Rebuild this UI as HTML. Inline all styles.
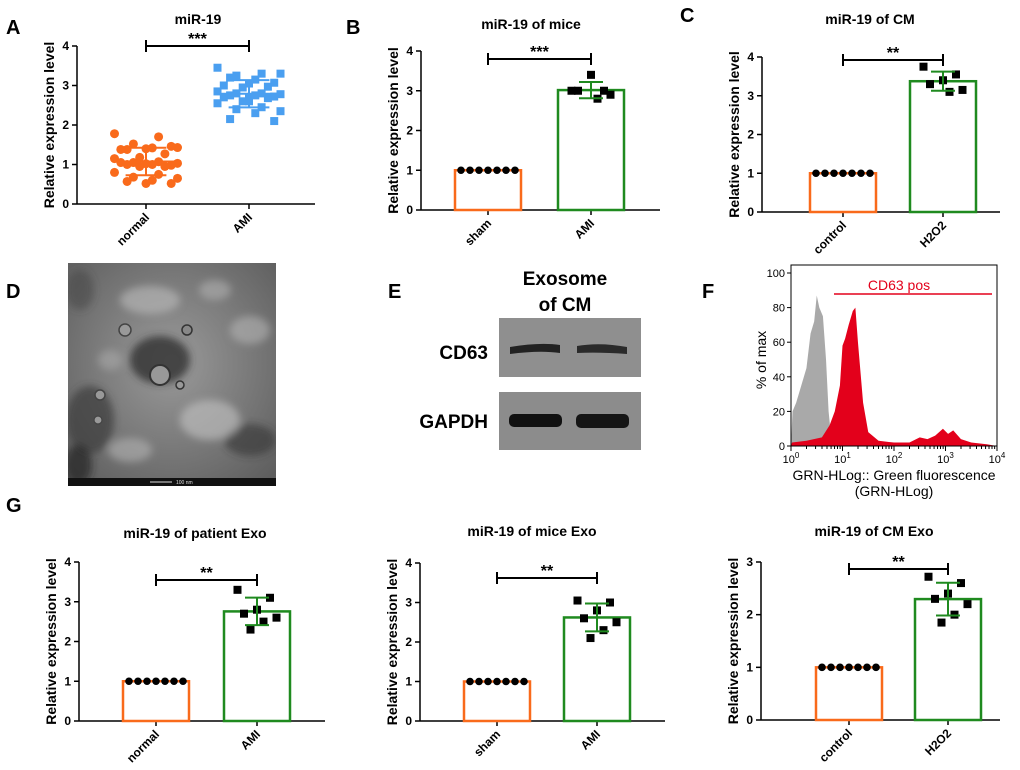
<!DOCTYPE html>
<html><head><meta charset="utf-8"><style>
html,body{margin:0;padding:0;background:#fff;}
svg{display:block;font-family:"Liberation Sans",Arial,sans-serif;}
</style></head><body>
<svg id="fig" width="1020" height="770" viewBox="0 0 1020 770" xmlns="http://www.w3.org/2000/svg">
<defs>
<radialGradient id="tem" cx="50%" cy="45%" r="70%"><stop offset="0" stop-color="#9a9a9a"/><stop offset="1" stop-color="#5e5e5e"/></radialGradient>
<filter id="blur2"><feGaussianBlur stdDeviation="4"/></filter>
<clipPath id="temclip"><rect x="68" y="263" width="208" height="223"/></clipPath>
</defs>
<g font-weight="bold" font-size="20" fill="#000">
<text x="6" y="34">A</text>
<text x="346" y="34">B</text>
<text x="680" y="22">C</text>
<text x="6" y="298">D</text>
<text x="388" y="298">E</text>
<text x="702" y="298">F</text>
<text x="6" y="512">G</text>
</g>
<!-- D: TEM image -->
<g clip-path="url(#temclip)">
<rect x="68" y="263" width="208" height="223" fill="url(#tem)"/>
<g filter="url(#blur2)">
<ellipse cx="160" cy="360" rx="30" ry="24" fill="#2e2e2e" opacity="0.8"/>
<ellipse cx="90" cy="420" rx="24" ry="34" fill="#3a3a3a" opacity="0.7"/>
<ellipse cx="78" cy="465" rx="14" ry="20" fill="#222" opacity="0.7"/>
<ellipse cx="250" cy="440" rx="26" ry="16" fill="#333" opacity="0.6"/>
<ellipse cx="80" cy="290" rx="14" ry="20" fill="#444" opacity="0.5"/>
<ellipse cx="150" cy="300" rx="30" ry="14" fill="#bdbdbd" opacity="0.6"/>
<ellipse cx="210" cy="420" rx="30" ry="20" fill="#c4c4c4" opacity="0.6"/>
<ellipse cx="250" cy="330" rx="20" ry="14" fill="#c0c0c0" opacity="0.5"/>
<ellipse cx="130" cy="450" rx="22" ry="12" fill="#c0c0c0" opacity="0.5"/>
<ellipse cx="215" cy="290" rx="16" ry="10" fill="#bbb" opacity="0.5"/>
<ellipse cx="110" cy="360" rx="12" ry="10" fill="#bbb" opacity="0.4"/>
</g>
<circle cx="160" cy="375" r="10" fill="#999" stroke="#333" stroke-width="2"/>
<circle cx="125" cy="330" r="6" fill="#999" stroke="#444" stroke-width="1.5"/>
<circle cx="187" cy="330" r="5" fill="#888" stroke="#333" stroke-width="1.5"/>
<circle cx="100" cy="395" r="5" fill="#999" stroke="#444" stroke-width="1.5"/>
<circle cx="180" cy="385" r="4" fill="#999" stroke="#333" stroke-width="1.5"/>
<circle cx="98" cy="420" r="4" fill="#999" stroke="#444" stroke-width="1.2"/>
<rect x="68" y="478" width="208" height="8" fill="#111"/>
<line x1="150" y1="482" x2="172" y2="482" stroke="#ddd" stroke-width="1"/>
<text x="176" y="484" font-size="5" fill="#ddd">100 nm</text>
</g>
<!-- E: western blot -->
<g>
<text x="565" y="285" font-size="19" font-weight="bold" text-anchor="middle">Exosome</text>
<text x="565" y="311" font-size="19" font-weight="bold" text-anchor="middle">of CM</text>
<rect x="499" y="318" width="142" height="59" fill="#8f8f8f"/>
<rect x="499" y="392" width="142" height="58" fill="#8c8c8c"/>
<path d="M510 347 Q540 342 560 345 L560 353 Q540 350 510 354Z" fill="#222"/>
<path d="M577 346 Q600 342 627 347 L627 354 Q600 352 577 353Z" fill="#2a2a2a"/>
<rect x="509" y="414" width="53" height="13" rx="5" fill="#111"/>
<rect x="576" y="414" width="53" height="14" rx="5" fill="#151515"/>
<text x="488" y="359" font-size="19" font-weight="bold" text-anchor="end">CD63</text>
<text x="488" y="428" font-size="19" font-weight="bold" text-anchor="end">GAPDH</text>
</g>
<g id="charts"></g>
</svg>
<script>
// ---------- data ----------
const aNormal=[1.78,1.70,1.52,1.43,1.42,1.38,1.46,1.40,1.38,1.27,1.18,1.15,1.07,1.05,1.03,1.00,1.00,0.98,1.02,1.05,0.95,0.95,0.80,0.75,0.68,0.65,0.60,0.57,0.52,0.52];
const aAMI=[3.45,3.30,3.25,3.30,3.15,3.20,3.07,3.05,3.00,2.97,2.95,2.85,2.80,2.80,2.78,2.75,2.75,2.72,2.70,2.70,2.68,2.60,2.55,2.45,2.40,2.35,2.30,2.15,2.10,2.60];
const bCategories=["sham","AMI"];
const bCtrl=[1,1,1,1,1,1,1];
const bTreat=[3.0,3.0,3.4,3.0,2.9,2.8];
const cCategories=["control","H2O2"];
const cCtrl=[1,1,1,1,1,1,1];
const cTreat=[3.75,3.55,3.4,3.3,3.15,3.1];
const g1Categories=["normal","AMI"];
const g1Ctrl=[1,1,1,1,1,1,1];
const g1Treat=[3.3,3.1,2.8,2.7,2.6,2.5,2.3];
const g2Categories=["sham","AMI"];
const g2Ctrl=[1,1,1,1,1,1,1];
const g2Treat=[3.05,3.0,2.8,2.6,2.5,2.3,2.1];
const g3Categories=["control","H2O2"];
const g3Ctrl=[1,1,1,1,1,1,1];
const g3Treat=[2.72,2.6,2.4,2.3,2.2,2.0,1.85];
const fGreyX=[0,0.03,0.1,0.2,0.3,0.38,0.45,0.5,0.55,0.62,0.68,0.73,0.78,0.85,0.9];
const fGreyY=[0,20,25,35,45,65,72,87,80,75,50,20,5,2,0];
const fRedX=[0,0.02,0.3,0.6,0.75,0.85,0.95,1.0,1.05,1.12,1.2,1.25,1.3,1.4,1.5,1.7,2.0,2.3,2.5,2.65,2.8,2.95,3.05,3.15,3.3,3.5,3.8,4];
const fRedY=[0,2,3,5,12,20,35,58,62,70,78,80,60,25,8,3,2,2,5,4,6,10,7,9,4,2,1,0];
const fTicksY=[0,20,40,60,80,100];
const fTicksX=[0,1,2,3,4];

const NS="http://www.w3.org/2000/svg";
const root=document.getElementById('charts');
function el(tag,attrs,parent,text){const e=document.createElementNS(NS,tag);for(const k in attrs)e.setAttribute(k,attrs[k]);if(text!==undefined)e.textContent=text;(parent||root).appendChild(e);return e;}
function mean(a){return a.reduce((s,v)=>s+v,0)/a.length;}
function sd(a){const m=mean(a);return Math.sqrt(a.reduce((s,v)=>s+(v-m)*(v-m),0)/(a.length-1));}

function chart(o){
  const g=el('g',{});
  
  
  const y=v=>o.y0-(v/o.ymax)*(o.y0-o.yTop);
  const t=el('text',{x:o.tx,y:o.ty,'font-size':14,'font-weight':'bold','text-anchor':'middle'},g,o.title);
  
  
  const yl=el('text',{transform:`translate(${o.ax-23},${(o.y0+o.yTop)/2}) rotate(-90)`,'font-size':14,'font-weight':'bold','text-anchor':'middle'},g,'Relative expression level');
  
  
  el('line',{x1:o.ax,y1:o.yTop,x2:o.ax,y2:o.y0,stroke:'#000','stroke-width':1.5},g);
  el('line',{x1:o.ax,y1:o.y0,x2:o.axEnd,y2:o.y0,stroke:'#000','stroke-width':1.5},g);
  for(let v=0;v<=o.ymax;v++){
    el('line',{x1:o.ax-5,y1:y(v),x2:o.ax,y2:y(v),stroke:'#000','stroke-width':1.5},g);
    const tl=el('text',{x:o.ax-8,y:y(v)+4,'font-size':12,'font-weight':'bold','text-anchor':'end'},g,String(v));
    
    
  }
  const groups=[o.ctrl,o.treat];
  o.cx.forEach((cx,i)=>{
    el('line',{x1:cx,y1:o.y0,x2:cx,y2:o.y0+5,stroke:'#000','stroke-width':1.5},g);
    const xl=el('text',{transform:`translate(${cx+4},${o.y0+14}) rotate(-45)`,'font-size':12,'font-weight':'bold','text-anchor':'end'},g,o.cats[i]);
    
    
  });
  const cols=o.scatter?['#f96a1b','#4a9ff0']:['#f96a1b','#1f8a1f'];
  groups.forEach((arr,i)=>{
    const cx=o.cx[i],m=mean(arr),s=sd(arr);
    if(!o.scatter){
      const b=el('rect',{x:cx-33,y:y(m),width:66,height:o.y0-y(m),fill:'none',stroke:cols[i],'stroke-width':2.5},g);
      
      
    }
    arr.forEach((v,j)=>{
      let px;
      if(o.scatter){px=cx+(((j*7)%11)-5)*6.3;}
      else if(i===0){px=cx-27+j*(54/(arr.length-1));}
      else {px=cx+(((j*5)%7)-3)*6.5;}
      let p;
      const fc=o.scatter?cols[i]:'#000';
      if(i===0) p=el('circle',{cx:px,cy:y(v),r:o.scatter?4.5:3.8,fill:fc},g);
      else p=el('rect',{x:px-4,y:y(v)-4,width:8,height:8,fill:fc},g);
      
      
    });
    if(i===1||o.scatter){
      const ec=cols[i];
      const ew=o.scatter?34:20;
      if(o.scatter) el('line',{x1:cx-ew,y1:y(m),x2:cx+ew,y2:y(m),stroke:ec,'stroke-width':2},g);
      el('line',{x1:cx,y1:y(m-s),x2:cx,y2:y(m+s),stroke:ec,'stroke-width':2},g);
      el('line',{x1:cx-ew*0.6,y1:y(m+s),x2:cx+ew*0.6,y2:y(m+s),stroke:ec,'stroke-width':2},g);
      el('line',{x1:cx-ew*0.6,y1:y(m-s),x2:cx+ew*0.6,y2:y(m-s),stroke:ec,'stroke-width':2},g);
    }
  });
  const sg=el('g',{},g);
  
  
  el('line',{x1:o.cx[0],y1:o.sy,x2:o.cx[1],y2:o.sy,stroke:'#000','stroke-width':2},sg);
  el('line',{x1:o.cx[0],y1:o.sy-6,x2:o.cx[0],y2:o.sy+6,stroke:'#000','stroke-width':2},sg);
  el('line',{x1:o.cx[1],y1:o.sy-6,x2:o.cx[1],y2:o.sy+6,stroke:'#000','stroke-width':2},sg);
  el('text',{x:(o.cx[0]+o.cx[1])/2,y:o.sy-2,'font-size':16,'font-weight':'bold','text-anchor':'middle'},sg,o.stars);
}

chart({name:'chart-a',title:'miR-19',tx:198,ty:24,ax:77,axEnd:315,y0:204,yTop:46,ymax:4,cx:[146,249],cats:['normal','AMI'],ctrl:aNormal,treat:aAMI,scatter:true,sy:46,stars:'***'});
chart({name:'chart-b',title:'miR-19 of mice',tx:531,ty:29,ax:421,axEnd:660,y0:210,yTop:51,ymax:4,cx:[488,591],cats:bCategories,ctrl:bCtrl,treat:bTreat,sy:59,stars:'***'});
chart({name:'chart-c',title:'miR-19 of CM',tx:870,ty:24,ax:762,axEnd:1000,y0:212,yTop:57,ymax:4,cx:[843,943],cats:cCategories,ctrl:cCtrl,treat:cTreat,sy:60,stars:'**'});
chart({name:'chart-g-patient',title:'miR-19 of patient Exo',tx:195,ty:538,ax:79,axEnd:325,y0:721,yTop:562,ymax:4,cx:[156,257],cats:g1Categories,ctrl:g1Ctrl,treat:g1Treat,sy:580,stars:'**'});
chart({name:'chart-g-mice',title:'miR-19 of mice Exo',tx:532,ty:536,ax:420,axEnd:665,y0:721,yTop:563,ymax:4,cx:[497,597],cats:g2Categories,ctrl:g2Ctrl,treat:g2Treat,sy:578,stars:'**'});
chart({name:'chart-g-cm',title:'miR-19 of CM Exo',tx:874,ty:536,ax:761,axEnd:1000,y0:720,yTop:562,ymax:3,cx:[849,948],cats:g3Categories,ctrl:g3Ctrl,treat:g3Treat,sy:569,stars:'**'});

// ---------- F: flow histogram ----------
(function(){
  const g=el('g',{});
  
  
  const x0=791,x1=997,y0=446,y100=273,top=265;
  const X=v=>x0+v/4*(x1-x0), Y=v=>y0-v/100*(y0-y100);
  function area(xs,ys,col,name){
    let d='M'+X(xs[0])+' '+Y(0);
    xs.forEach((v,i)=>{d+=' L'+X(v)+' '+Y(ys[i]);});
    d+=' L'+X(xs[xs.length-1])+' '+Y(0)+'Z';
    const p=el('path',{d:d,fill:col},g);
    
    
  }
  area(fGreyX,fGreyY,'#a9a9a9','histogram-control');
  area(fRedX,fRedY,'#e3001b','histogram-cd63');
  el('path',{d:`M${x0} ${y0} L${x0} ${top} L${x1} ${top} L${x1} ${y0} Z`,fill:'none',stroke:'#000','stroke-width':1},g);
  fTicksY.forEach(v=>{
    el('line',{x1:x0-4,y1:Y(v),x2:x0,y2:Y(v),stroke:'#000'},g);
    el('text',{x:x0-6,y:Y(v)+4,'font-size':11,'text-anchor':'end'},g,String(v));
  });
  fTicksX.forEach(v=>{
    el('line',{x1:X(v),y1:y0,x2:X(v),y2:y0+5,stroke:'#000'},g);
    const t=el('text',{x:X(v),y:y0+17,'font-size':11,'text-anchor':'middle'},g,'10');
    el('tspan',{dy:-5,'font-size':8},t,String(v));
    if(v<4) for(let k=2;k<10;k++){const xx=X(v+Math.log10(k));el('line',{x1:xx,y1:y0,x2:xx,y2:y0+3,stroke:'#000'},g);}
  });
  el('line',{x1:834,y1:294,x2:992,y2:294,stroke:'#e3001b','stroke-width':1.5},g);
  el('text',{x:899,y:290,'font-size':14,fill:'#e3001b','text-anchor':'middle'},g,'CD63 pos');
  el('text',{transform:`translate(766,360) rotate(-90)`,'font-size':14,'text-anchor':'middle'},g,'% of max');
  el('text',{x:894,y:480,'font-size':14,'text-anchor':'middle'},g,'GRN-HLog:: Green fluorescence');
  el('text',{x:894,y:496,'font-size':14,'text-anchor':'middle'},g,'(GRN-HLog)');
})();
</script>
</body></html>
